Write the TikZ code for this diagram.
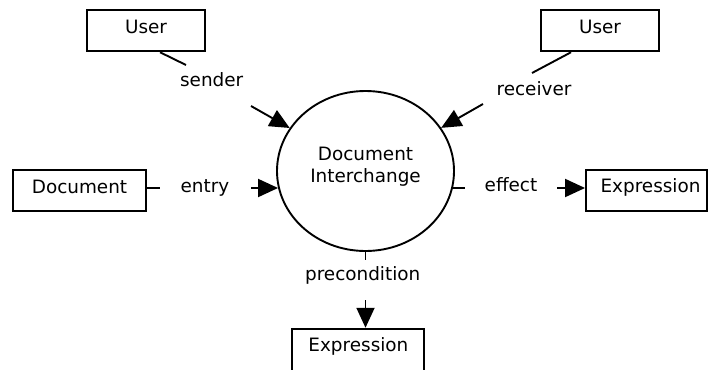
\documentclass[tikz,border=0pt]{standalone}
\usepackage{fontspec}
\setmainfont{DejaVu Sans}
\usetikzlibrary{shapes.geometric,arrows.meta}
\begin{document}
\begin{tikzpicture}[x=1pt,y=-1pt,
  every node/.style={font=\fontsize{18.4pt}{21.8pt}\selectfont},
  box/.style={draw, line width=1.9pt, rectangle, inner sep=0pt, text height=23pt, text depth=18pt, anchor=base},
  lbl/.style={inner sep=0pt, anchor=base},
  ln/.style={line width=1.9pt},
  arr/.style={line width=1.9pt, -{Triangle[length=20pt,width=18pt]}}]
\useasboundingbox (0,0) rectangle (708,369);
% boxes
\node[box, minimum width=118pt] (u1) at (146,33.3) {User};
\node[box, minimum width=118pt] (u2) at (600,33.3) {User};
\node[box, minimum width=133pt] (doc) at (79.5,193) {Document};
\node[box, minimum width=121pt] (ex1) at (646.5,192.7) {\hspace*{8pt}Expression};
\node[box, minimum width=132pt, text depth=21pt] (ex2) at (358.4,351.7) {Expression};
% process
\node[draw, ellipse, line width=1.9pt, minimum width=177pt, minimum height=160pt, inner sep=0pt] (dic) at (365.5,171) {};
\node[align=center, inner sep=0pt] (dict) at ([yshift=4.6pt]dic.center) {Document\\Interchange};
% labels
\node[lbl] (sl) at (211.7,86.7) {sender};
\node[lbl] (rl) at (534,95) {receiver};
\node[lbl] (enl) at (205,192.7) {entry};
\node[lbl] (efl) at (511,191.7) {effect};
\node[lbl] (pl) at (362.7,280) {precondition};
% connector break points
\coordinate (s1) at (186,65); \coordinate (s2) at (251,106);
\coordinate (r1) at (532,73); \coordinate (r2) at (483,104);
\coordinate (en1) at (160,188); \coordinate (en2) at (251,188);
\coordinate (ef1) at (465,188); \coordinate (ef2) at (557,188);
\coordinate (pc1) at (365.5,260); \coordinate (pc2) at (365.5,300);
% connectors
\draw[ln] ([xshift=14pt]u1.south) -- (s1);
\draw[arr] (s2) -- (dic);
\draw[ln] ([xshift=-29pt]u2.south) -- (r1);
\draw[arr] (r2) -- (dic);
\draw[ln] (en1 -| doc.east) -- (en1);
\draw[arr] (en2) -- (en2 -| dic.191);
\draw[ln] (ef1 -| dic.-11) -- (ef1);
\draw[arr] (ef2) -- (ef2 -| ex1.west);
\draw[ln] (dic.south) -- (pc1);
\draw[arr] (pc2) -- (pc2 |- ex2.north);
\end{tikzpicture}
\end{document}
